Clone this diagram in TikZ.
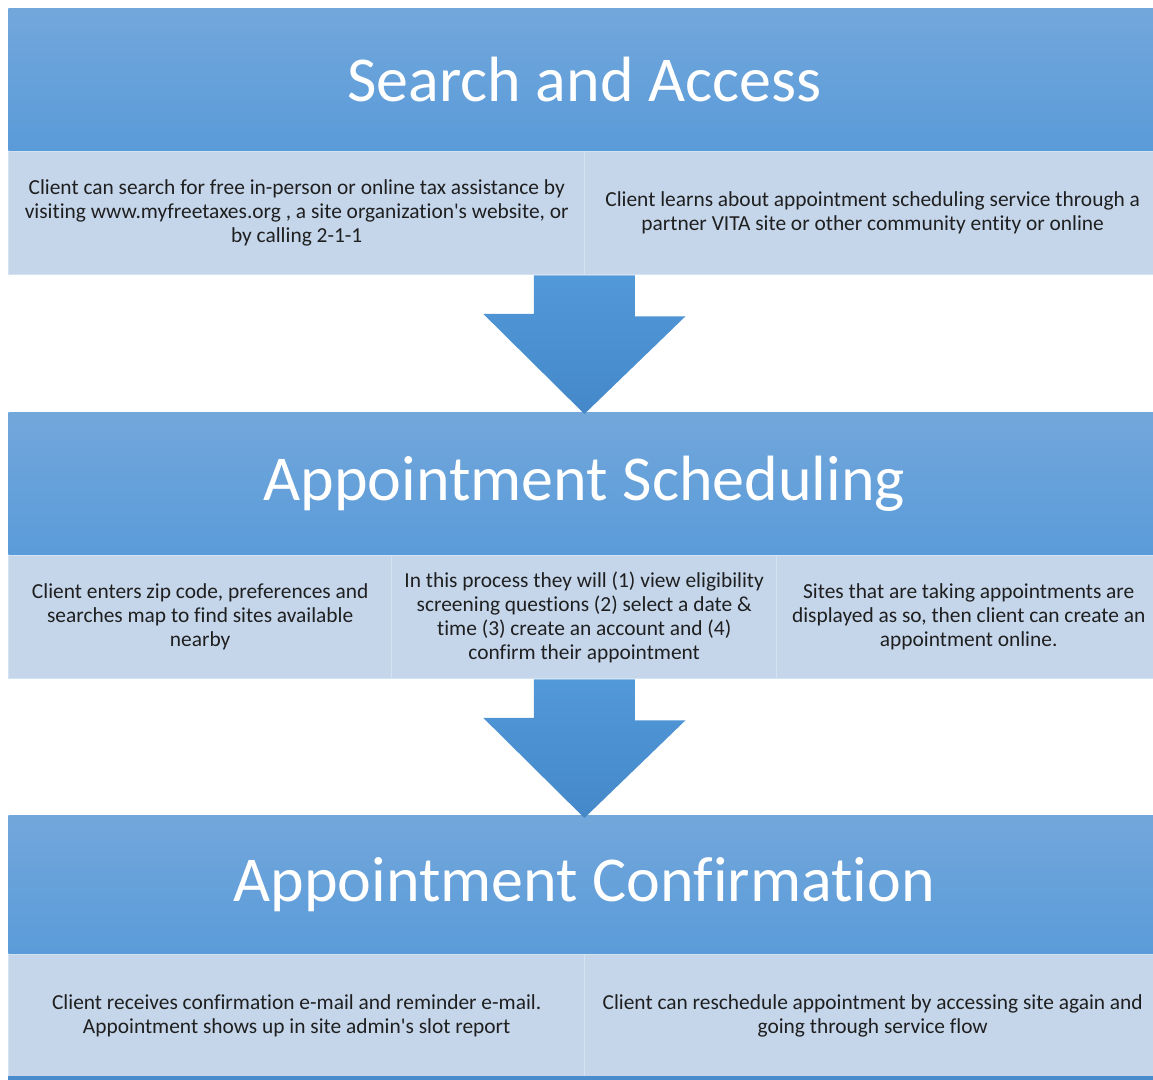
\documentclass[tikz,border=0pt]{standalone}
\usepackage{fontspec}
\setmainfont{Carlito}[Ligatures={TeXOff,CommonOff}]
\usepackage{xcolor}
\usetikzlibrary{calc}
\definecolor{hdrtop}{HTML}{72A7DB}
\definecolor{hdrbot}{HTML}{5A9BD9}
\definecolor{cellfill}{HTML}{C5D6EB}
\definecolor{celledge}{HTML}{D5E2F2}
\definecolor{arrtop}{HTML}{5299D9}
\definecolor{arrbot}{HTML}{4488C9}
\definecolor{stripblue}{HTML}{4A8BCB}
\tikzset{
  stage/.style={
    anchor = north west,
    inner sep = 0pt,
    minimum width = 576pt,
    minimum height = 71pt,
    top color = hdrtop,
    bottom color = hdrbot,
    text = white,
    font = \fontsize{32}{38}\selectfont
  },
  cell/.style={
    anchor = north west,
    inner sep = 0pt,
    minimum width = #1,
    minimum height = 61.5pt,
    fill = cellfill,
    draw = celledge,
    line width = 0.7pt,
    align = center,
    text = black!88,
    font = \fontsize{10.7}{12}\selectfont
  },
  cell/.default = 288pt,
  flow/.style={
    top color = arrtop,
    bottom color = arrbot,
    draw = none
  }
}

\begin{document}
\begin{tikzpicture}[x=0.5pt, y=-0.5pt]
\useasboundingbox (0,0) rectangle (1153,1080);
% first stage
\node[stage] (S1) at (8,8) {Search and Access};
\node[cell] (S1a) at (8,151) {Client can search for free in-person or online tax assistance by\\visiting www.myfreetaxes.org , a site organization's website, or\\by calling 2-1-1};
\node[cell] (S1b) at (584,151) {Client learns about appointment scheduling service through a\\partner VITA site or other community entity or online};
% second stage
\node[stage] (S2) at (8,412) {Appointment Scheduling};
\node[cell=191.5pt] (S2a) at (8,555) {Client enters zip code, preferences and\\searches map to find sites available\\nearby};
\node[cell=192.5pt] (S2b) at (391,555) {In this process they will (1) view eligibility\\screening questions (2) select a date \&\\time (3) create an account and (4)\\confirm their appointment};
\node[cell=192pt] (S2c) at (776,555) {Sites that are taking appointments are\\displayed as so, then client can create an\\appointment online.};
% third stage
\node[stage, minimum height=69pt] (S3) at (8,815) {Appointment Confirmation};
\node[cell] (S3a) at (8,954) {Client receives confirmation e-mail and reminder e-mail.\\Appointment shows up in site admin's slot report};
\node[cell] (S3b) at (584,954) {Client can reschedule appointment by accessing site again and\\going through service flow};
\node[fill=stripblue, anchor=north west, inner sep=0pt, minimum width=576pt, minimum height=3pt] (S4) at (8,1076) {};

% block arrows between the stages
\path[flow] (S1.south |- S1a.south) ++(-50.5,0) -- ++(101,0) -- ++(0,41) -- ++(50.5,0)
  -- ($(S2.north)+(0,2)$) -- ++(-101,-100) -- ++(50.5,0) -- cycle;
\path[flow] (S2.south |- S2b.south) ++(-50.5,0) -- ++(101,0) -- ++(0,41) -- ++(50.5,0)
  -- ($(S3.north)+(0,3)$) -- ++(-101,-100) -- ++(50.5,0) -- cycle;
\end{tikzpicture}
\end{document}
